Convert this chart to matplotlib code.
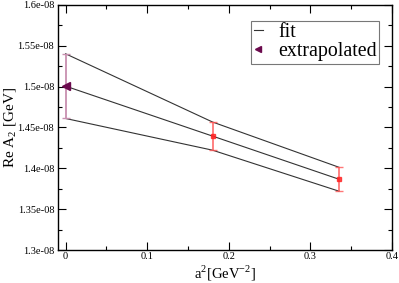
import numpy as np
import matplotlib
matplotlib.use("Agg")
import matplotlib.pyplot as plt
from matplotlib.ticker import MultipleLocator, FuncFormatter

# lattice points (a^2, Re A2) with errors
a2 = [0.18, 0.335]
reA2 = [1.4395e-08, 1.3868e-08]
err = [0.0172e-08, 0.0146e-08]

# extrapolated value at a^2 = 0
a2_ext = [0.0]
reA2_ext = [1.5005e-08]
err_ext = [0.0395e-08]

# fit bands: central, upper, lower
fit_x = [0.0, 0.18, 0.335]
fit_mid = [1.5005e-08, 1.4395e-08, 1.3868e-08]
fit_up = [1.540e-08, 1.4567e-08, 1.4014e-08]
fit_lo = [1.461e-08, 1.4223e-08, 1.3722e-08]

plt.rcParams['font.family'] = ['Liberation Serif', 'DejaVu Serif']
plt.rcParams['mathtext.fontset'] = 'custom'
plt.rcParams['mathtext.rm'] = 'Liberation Serif'

fig = plt.figure(figsize=(3.99, 2.83), dpi=100)
ax = fig.add_axes([0.1446, 0.1155, 0.838, 0.868])

for yy in (fit_mid, fit_up, fit_lo):
    ax.plot(fit_x, yy, color='#333333', lw=0.8, label='fit' if yy is fit_mid else None)

ax.errorbar(a2, reA2, yerr=err, fmt='s', color='#ff2020', ms=2.5, ecolor='#ff5555',
            elinewidth=1.3, capsize=3, capthick=1.0, alpha=0.8)
ax.errorbar(a2_ext, reA2_ext, yerr=err_ext, fmt='none', ecolor='#c890b0',
            elinewidth=1.3, capsize=3, capthick=1.0)
ax.plot(a2_ext, reA2_ext, '<', color='#6b0a4d', ms=6, label='extrapolated', ls='none')

ax.set_xlim(-0.0097, 0.4)
ax.set_ylim(1.3e-08, 1.6e-08)
ax.xaxis.set_major_locator(MultipleLocator(0.1))
ax.xaxis.set_minor_locator(MultipleLocator(0.05))
ax.yaxis.set_major_locator(MultipleLocator(0.05e-08))
ax.yaxis.set_minor_locator(MultipleLocator(0.025e-08))
ax.xaxis.set_major_formatter(FuncFormatter(lambda v, p: f"{v:g}" if abs(v) > 1e-9 else "0"))
ax.yaxis.set_major_formatter(FuncFormatter(lambda v, p: f"{v:.3g}"))
ax.tick_params(which='both', direction='in', top=True, right=True, labelsize=7.5, width=0.8)
ax.tick_params(which='major', length=6, pad=2.5)
ax.tick_params(axis='x', which='major', pad=1.5)
ax.tick_params(which='minor', length=3)
for s in ax.spines.values():
    s.set_linewidth(1.0)

ax.set_xlabel(r'a$^{2}$[GeV$^{-2}$]', fontsize=10.5)
ax.xaxis.set_label_coords(0.5, -0.055)
ax.set_ylabel(r'Re A$_{2}$ [GeV]', fontsize=11)
ax.yaxis.set_label_coords(-0.116, 0.5)

leg = ax.legend(loc='upper right', bbox_to_anchor=(0.962, 0.934), fontsize=14.3, frameon=True,
                fancybox=False, edgecolor='#555555', handlelength=0.5, handletextpad=0.75,
                borderpad=0.12, labelspacing=0.0, borderaxespad=0, markerscale=0.7)
leg.get_frame().set_linewidth(0.8)

fig.savefig('out.png', dpi=100)
